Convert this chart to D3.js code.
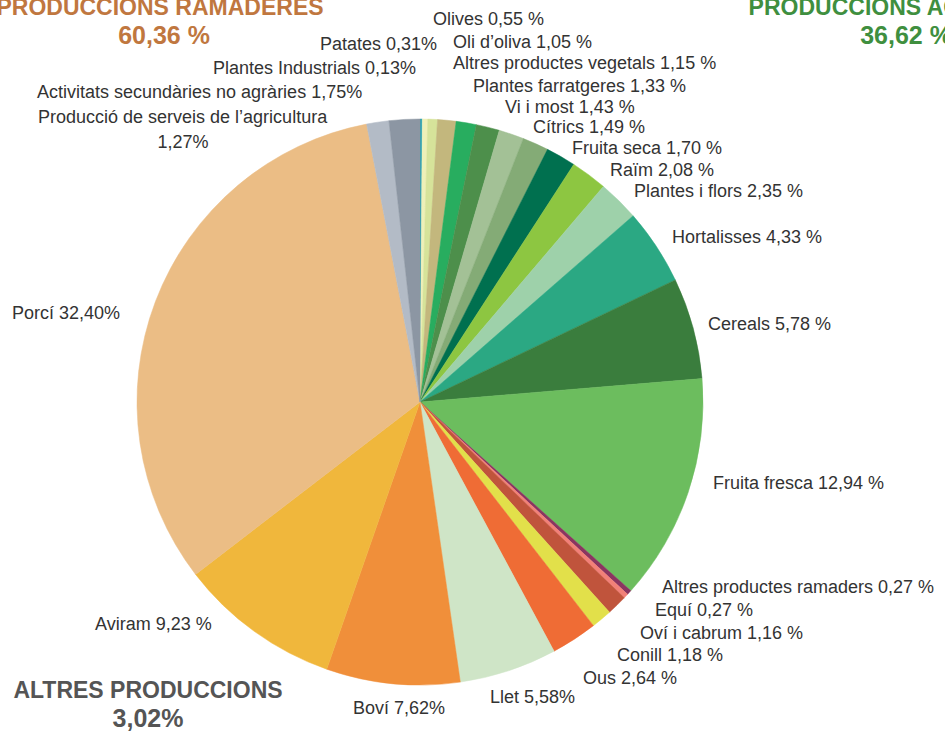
<!DOCTYPE html>
<html>
<head>
<meta charset="utf-8">
<script src="https://cdn.jsdelivr.net/npm/d3@7"></script>
<style>
  body { margin: 0; background: #fff; }
  svg { display: block; }
  text { font-family: "Liberation Sans", Arial, sans-serif; }
</style>
</head>
<body>
<svg width="945" height="731"></svg>
<script>
// slices, clockwise from 12 o'clock
var names = [
  "Plantes Industrials", "Patates", "Olives", "Oli d\u2019oliva", "Altres productes vegetals",
  "Plantes farratgeres", "Vi i most", "C\u00edtrics", "Fruita seca", "Ra\u00efm",
  "Plantes i flors", "Hortalisses", "Cereals", "Fruita fresca",
  "Altres productes ramaders", "Equ\u00ed", "Ov\u00ed i cabrum", "Conill", "Ous",
  "Llet", "Bov\u00ed", "Aviram", "Porc\u00ed",
  "Producci\u00f3 de serveis de l\u2019agricultura", "Activitats secund\u00e0ries no agr\u00e0ries"
];
var values = [
  0.13, 0.31, 0.55, 1.05, 1.15,
  1.33, 1.43, 1.49, 1.70, 2.08,
  2.35, 4.33, 5.78, 12.94,
  0.27, 0.27, 1.16, 1.18, 2.64,
  5.58, 7.62, 9.23, 32.40,
  1.27, 1.75
];
// "%" written with or without a space, as in the original
var suffix = [
  "%", "%", " %", " %", " %",
  " %", " %", " %", " %", " %",
  " %", " %", " %", " %",
  " %", " %", " %", " %", " %",
  "%", "%", " %", "%",
  "%", "%"
];
var colors = [
  "#2aa3b3", "#eef0b8", "#d6e39a", "#c3b77d", "#28ad5f",
  "#4d8f4b", "#a3c196", "#84ab76", "#00704f", "#8dc641",
  "#9ed1aa", "#2ba883", "#3a7d3d", "#6cbd5e",
  "#8a3560", "#f28078", "#c0543c", "#e2e04a", "#ef6c35",
  "#cfe5c7", "#f08f3a", "#f0b73c", "#ebbd85",
  "#b3bbc6", "#8c96a3"
];
var groupNames = ["PRODUCCIONS RAMADERES", "PRODUCCIONS AGR\u00cdCOLES", "ALTRES PRODUCCIONS"];
var groupTotals = ["60,36 %", "36,62 %", "3,02%"];

// label anchors (left x, baseline y)
var labelPos = [
  [213, 74], [320, 50], [433, 25], [453, 48], [453, 69],
  [473, 92], [505, 113], [533, 133], [572, 154], [610, 176],
  [634, 197], [672, 243], [708, 330], [713, 489],
  [662, 593], [655, 616], [640, 639], [617, 661], [583, 684],
  [490, 703], [353, 714], [95, 630], [12, 319],
  [38, 123], [37, 98]
];

var svg = d3.select("svg");
var cx = 420, cy = 402, r = 283;
var fmt = function(v) { return d3.format(".2f")(v).replace(".", ","); };

var pie = d3.pie().sort(null).value(function(d) { return d; });
var arc = d3.arc().innerRadius(0).outerRadius(r);

svg.append("g")
  .attr("transform", "translate(" + cx + "," + cy + ")")
  .selectAll("path")
  .data(pie(values))
  .join("path")
  .attr("d", arc)
  .attr("fill", function(d, i) { return colors[i]; })
  .attr("stroke", function(d, i) { return colors[i]; })
  .attr("stroke-width", 0.5);

var labels = svg.append("g")
  .attr("font-size", 18)
  .attr("fill", "#333");

names.forEach(function(n, i) {
  var t = labels.append("text")
    .attr("x", labelPos[i][0])
    .attr("y", labelPos[i][1]);
  if (i == 23) {
    // this one breaks onto two lines
    t.text(n);
    labels.append("text")
      .attr("x", 183).attr("y", 148)
      .attr("text-anchor", "middle")
      .text(fmt(values[i]) + suffix[i]);
  } else {
    t.text(n + " " + fmt(values[i]) + suffix[i]);
  }
});

// group headings (the top ones run off the page edge, as in the original)
var heads = [
  {x: 160, y: 15, c: "#c0773f"},
  {x: 906, y: 15, c: "#3f8f3f"},
  {x: 148, y: 698, c: "#555555"}
];
heads.forEach(function(h, i) {
  svg.append("text")
    .attr("x", h.x).attr("y", h.y)
    .attr("text-anchor", "middle")
    .attr("font-size", 23).attr("font-weight", "bold")
    .attr("fill", h.c)
    .text(groupNames[i]);
  svg.append("text")
    .attr("x", h.x + (i == 0 ? 4 : 0)).attr("y", h.y + 29)
    .attr("text-anchor", "middle")
    .attr("font-size", 25).attr("font-weight", "bold")
    .attr("fill", h.c)
    .text(groupTotals[i]);
});
</script>
</body>
</html>
